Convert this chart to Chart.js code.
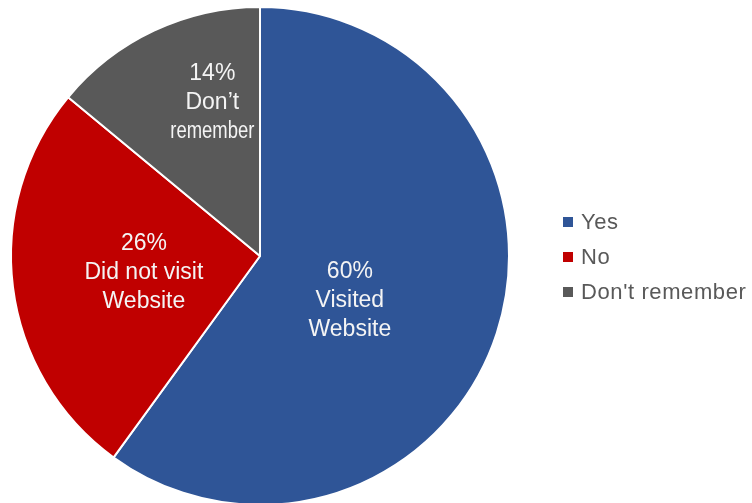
<!DOCTYPE html>
<html>
<head>
<meta charset="utf-8">
<script src="https://cdn.jsdelivr.net/npm/chart.js@4/dist/chart.umd.min.js"></script>
<style>
  html, body { margin: 0; padding: 0; background: #ffffff; overflow: hidden; }
  #wrap { width: 752px; height: 503px; overflow: hidden; }
  canvas { display: block; }
</style>
</head>
<body>
<div id="wrap"><canvas id="pie" width="752" height="510"></canvas></div>
<script>
// Survey answers: did the respondent visit the website?
const categories = ['Yes', 'No', "Don't remember"];
const shares = [60, 26, 14];
const sliceCaptions = [['Visited', 'Website'], ['Did not visit', 'Website'], ['Don\u2019t', 'remember']];
const sliceColors = ['#2F5597', '#C00000', '#595959'];

// Where each caption sits inside its slice: fraction of the slice's sweep, fraction of radius
const captionAngleFrac = [0.535, 0.5, 0.66];
const captionRadiusFrac = [0.4, 0.47, 0.65];
// Widest a caption line may run before it is squeezed to fit its slice
const captionMaxWidth = [200, 200, 84];

const FONT = '"Liberation Sans", Arial, sans-serif';

const sliceLabels = {
  id: 'sliceLabels',
  afterDatasetsDraw(chart) {
    const ctx = chart.ctx;
    const meta = chart.getDatasetMeta(0);
    ctx.save();
    ctx.fillStyle = '#F4F4F4';
    ctx.font = '23px ' + FONT;
    ctx.textAlign = 'center';
    ctx.textBaseline = 'middle';
    meta.data.forEach((arc, i) => {
      const p = arc.getProps(['x', 'y', 'startAngle', 'endAngle', 'outerRadius'], true);
      const a = p.startAngle + (p.endAngle - p.startAngle) * captionAngleFrac[i];
      const r = p.outerRadius * captionRadiusFrac[i];
      const cx = p.x + Math.cos(a) * r;
      const cy = p.y + Math.sin(a) * r + 1.5;
      const lines = [shares[i] + '%'].concat(sliceCaptions[i]);
      const lh = 29;
      lines.forEach((t, k) => {
        ctx.fillText(t, cx, cy + (k - (lines.length - 1) / 2) * lh, captionMaxWidth[i]);
      });
    });
    ctx.restore();
  }
};

const sideLegend = {
  id: 'sideLegend',
  afterDraw(chart) {
    const ctx = chart.ctx;
    const ds = chart.data.datasets[0];
    ctx.save();
    ctx.font = '22px ' + FONT;
    ctx.letterSpacing = '0.6px';
    ctx.textBaseline = 'middle';
    ctx.textAlign = 'left';
    const x0 = 563, y0 = 222, step = 35, box = 10;
    chart.data.labels.forEach((lab, i) => {
      const y = y0 + i * step;
      ctx.fillStyle = ds.backgroundColor[i];
      ctx.fillRect(x0, y - box / 2, box, box);
      ctx.fillStyle = '#595959';
      ctx.fillText(lab, x0 + 18, y + 1);
    });
    ctx.restore();
  }
};

new Chart(document.getElementById('pie'), {
  type: 'pie',
  data: {
    labels: categories,
    datasets: [{
      data: shares,
      backgroundColor: sliceColors,
      borderColor: '#ffffff',
      borderWidth: 2
    }]
  },
  options: {
    responsive: false,
    animation: false,
    layout: { padding: { left: 10, top: 6, right: 242, bottom: 4 } },
    plugins: {
      legend: { display: false },
      tooltip: { enabled: false }
    }
  },
  plugins: [sliceLabels, sideLegend]
});
</script>
</body>
</html>
